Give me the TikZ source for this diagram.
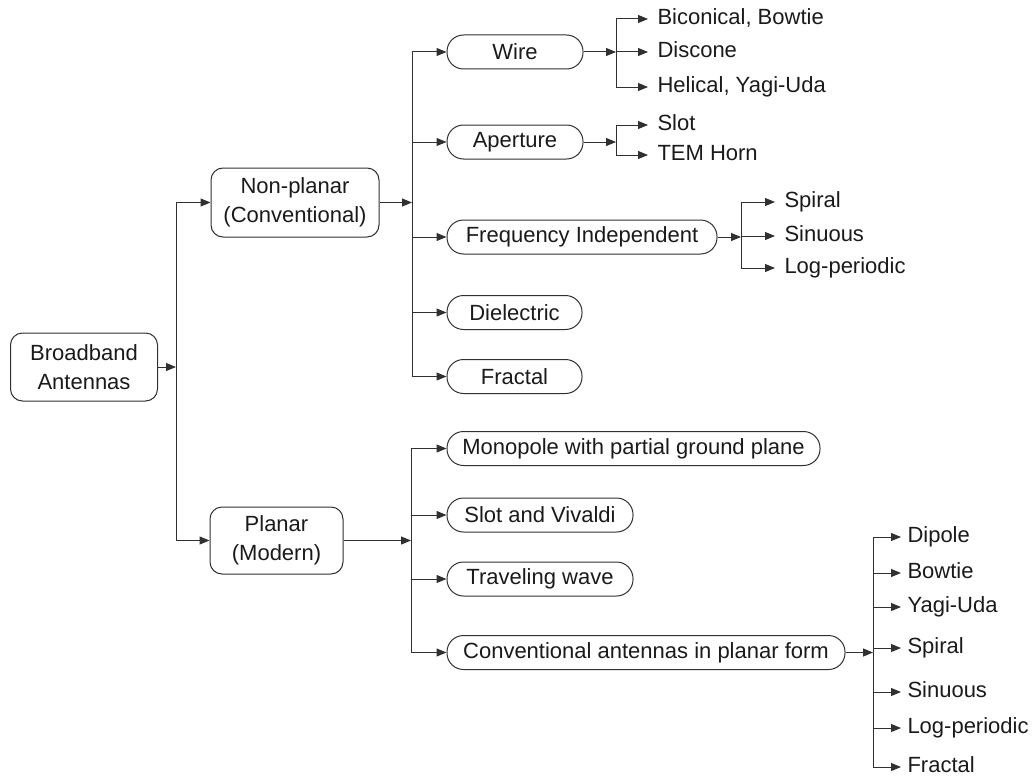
\documentclass[tikz,border=0pt]{standalone}
\usepackage{fontspec}
\setmainfont{Liberation Sans}
\usetikzlibrary{arrows.meta}
\definecolor{ln}{HTML}{303030}
\definecolor{tx}{HTML}{1A1A1A}
\begin{document}
\begin{tikzpicture}[x=1pt,y=-1pt,line width=1pt,
  big/.style={draw=ln, rounded corners=12pt, align=center, inner sep=0pt, text=tx,
    font=\fontsize{22}{29}\selectfont},
  pill/.style={draw=ln, rounded corners=16.5pt, minimum height=34pt, inner sep=0pt, text=tx,
    font=\fontsize{22}{26}\selectfont},
  leaf/.style={anchor=west, inner sep=0pt, text=tx, text height=16pt, text depth=4.5pt,
    font=\fontsize{22}{26}\selectfont},
  arr/.style={draw=ln, -{Triangle[length=10pt,width=8pt]}},
  ln/.style={draw=ln}]
\useasboundingbox (0,0) rectangle (1033,776);

% main nodes
\node[big, minimum width=147pt, minimum height=68pt] (bb) at (84,367) {Broadband\\Antennas};
\node[big, minimum width=168pt, minimum height=69pt] (np) at (295,202.5) {Non-planar\\(Conventional)};
\node[big, minimum width=133pt, minimum height=67pt] (pl) at (276.5,540.5) {Planar\\(Modern)};

% non-planar children
\node[pill, minimum width=136pt] (wire) at (515,52) {Wire};
\node[pill, minimum width=136pt] (aper) at (515,142) {Aperture};
\node[pill, minimum width=270pt] (fi) at (582,237) {Frequency Independent};
\node[pill, minimum width=135pt] (diel) at (514.5,312.5) {Dielectric};
\node[pill, minimum width=135pt] (frac) at (514.5,376.5) {Fractal};

% planar children
\node[pill, minimum width=373pt] (mono) at (633.5,448.5) {Monopole with partial ground plane};
\node[pill, minimum width=186pt] (slot) at (540,515) {Slot and Vivaldi};
\node[pill, minimum width=186pt] (trav) at (540,579) {Traveling wave};
\node[pill, minimum width=398pt] (conv) at (646,652.5) {Conventional antennas in planar form};

% leaves
\node[leaf] (w1) at (657,19) {Biconical, Bowtie};
\node[leaf] (w2) at (657,52) {Discone};
\node[leaf] (w3) at (657,87) {Helical, Yagi-Uda};
\node[leaf] (a1) at (657,125) {Slot};
\node[leaf] (a2) at (657,155) {TEM Horn};
\node[leaf] (f1) at (784,202) {Spiral};
\node[leaf] (f2) at (784,236) {Sinuous};
\node[leaf] (f3) at (784,268) {Log-periodic};
\node[leaf] (c1) at (907,537) {Dipole};
\node[leaf] (c2) at (907,573) {Bowtie};
\node[leaf] (c3) at (907,607) {Yagi-Uda};
\node[leaf] (c4) at (907,648) {Spiral};
\node[leaf] (c5) at (907,692) {Sinuous};
\node[leaf] (c6) at (907,728) {Log-periodic};
\node[leaf] (c7) at (907,767) {Fractal};

% junction coordinates
\coordinate (j1) at (176,367);
\coordinate (j2) at (412,202.5);
\coordinate (j3) at (411,540.5);
\coordinate (jw) at (616,52);
\coordinate (ja) at (616,142);
\coordinate (jf) at (741,237);
\coordinate (jc) at (873,652.5);

% level 1
\draw[arr] (bb.east) -- (j1);
\draw[ln] (np.west -| j1) -- (pl.west -| j1);
\draw[arr] (np.west -| j1) -- (np.west);
\draw[arr] (pl.west -| j1) -- (pl.west);

% level 2 non-planar
\draw[arr] (np.east) -- (j2);
\draw[ln] (wire.west -| j2) -- (frac.west -| j2);
\foreach \n in {wire,aper,fi,diel,frac}
  \draw[arr] (\n.west -| j2) -- (\n.west);

% level 2 planar
\draw[arr] (pl.east) -- (j3);
\draw[ln] (mono.west -| j3) -- (conv.west -| j3);
\foreach \n in {mono,slot,trav,conv}
  \draw[arr] (\n.west -| j3) -- (\n.west);

% wire leaves
\draw[arr] (wire.east) -- (jw);
\draw[ln] (w1.west -| jw) -- (w3.west -| jw);
\foreach \n in {w1,w2,w3}
  \draw[arr] (\n.west -| jw) -- ([xshift=-9pt]\n.west);

% aperture leaves
\draw[arr] (aper.east) -- (ja);
\draw[ln] (a1.west -| ja) -- (a2.west -| ja);
\foreach \n in {a1,a2}
  \draw[arr] (\n.west -| ja) -- ([xshift=-9pt]\n.west);

% FI leaves
\draw[arr] (fi.east) -- (jf);
\draw[ln] (f1.west -| jf) -- (f3.west -| jf);
\foreach \n in {f1,f2,f3}
  \draw[arr] (\n.west -| jf) -- ([xshift=-9pt]\n.west);

% conventional planar leaves
\draw[arr] (conv.east) -- (jc);
\draw[ln] (c1.west -| jc) -- (c7.west -| jc);
\foreach \n in {c1,c2,c3,c4,c5,c6,c7}
  \draw[arr] (\n.west -| jc) -- ([xshift=-6pt]\n.west);
\end{tikzpicture}
\end{document}
